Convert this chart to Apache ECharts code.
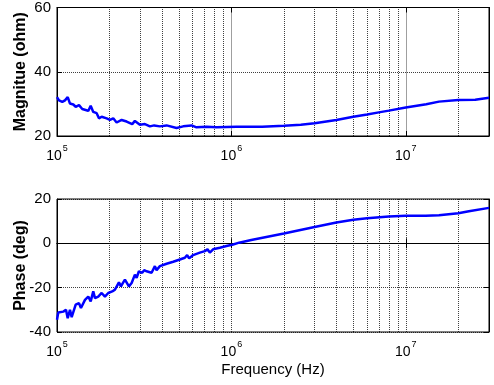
<!DOCTYPE html>
<html>
<head>
<meta charset="utf-8">
<script src="https://cdn.jsdelivr.net/npm/echarts@6/dist/echarts.min.js"></script>
<style>
html,body{margin:0;padding:0;background:#fff;}
#c{width:494px;height:385px;}
</style>
</head>
<body>
<div id="c"></div>
<script>
// Magnitude (ohm) vs frequency (Hz)
var magFreq = [1.00e5,1.027e5,1.072e5,1.111e5,1.152e5,1.187e5,1.240e5,1.280e5,1.337e5,1.396e5,1.460e5,1.511e5,1.560e5,1.614e5,1.688e5,1.740e5,1.803e5,1.926e5,2.012e5,2.101e5,2.197e5,2.348e5,2.507e5,2.700e5,2.797e5,2.988e5,3.192e5,3.410e5,3.609e5,3.890e5,4.250e5,4.848e5,5.290e5,5.908e5,6.311e5,7.201e5,8.216e5,9.374e5,1.070e6,1.5e6,2.0e6,2.5e6,3.0e6,4.0e6,5.0e6,6.0e6,7.0e6,8.0e6,1.0e7,1.31e7,1.55e7,2.0e7,2.5e7,3.0e7];
var magValues = [32.1,31.1,30.6,31.1,32.1,30.1,29.8,29.1,29.6,28.4,28.1,27.8,29.4,27.5,27.1,25.5,26.0,25.5,25.0,25.5,24.2,25.0,24.5,23.7,24.7,23.5,23.7,23.0,23.3,23.0,23.3,22.5,23.0,23.3,22.7,22.9,22.7,22.8,22.9,22.9,23.2,23.5,24.0,25.0,26.0,26.7,27.35,27.9,28.9,29.9,30.7,31.2,31.3,31.9];

// Phase (deg) vs frequency (Hz)
var phaseFreq = [1.00e5,1.017e5,1.087e5,1.126e5,1.152e5,1.187e5,1.214e5,1.280e5,1.337e5,1.372e5,1.447e5,1.511e5,1.560e5,1.614e5,1.651e5,1.724e5,1.803e5,1.883e5,1.967e5,2.074e5,2.149e5,2.197e5,2.265e5,2.326e5,2.398e5,2.452e5,2.585e5,2.679e5,2.797e5,2.861e5,2.949e5,3.080e5,3.162e5,3.264e5,3.486e5,3.642e5,3.724e5,3.890e5,4.250e5,4.636e5,5.064e5,5.409e5,5.576e5,5.724e5,6.035e5,6.592e5,7.042e5,7.297e5,7.521e5,7.855e5,8.582e5,9.374e5,1.023e6,1.107e6,1.3e6,2.0e6,3.0e6,4.0e6,5.0e6,6.0e6,8.0e6,1.0e7,1.3e7,1.55e7,2.0e7,2.3e7,3.0e7];
var phaseValues = [-34.5,-31.2,-30.8,-30.0,-33.8,-30.0,-33.3,-27.7,-27.0,-29.2,-25.5,-24.0,-26.2,-21.7,-24.7,-24.0,-22.4,-24.0,-22.4,-21.7,-20.9,-20.1,-17.6,-19.4,-17.6,-16.4,-19.4,-17.9,-14.1,-15.6,-12.6,-13.3,-12.1,-12.6,-13.3,-10.3,-12.1,-10.3,-9.2,-8.3,-7.3,-6.5,-5.3,-6.8,-5.3,-4.2,-3.5,-2.7,-4.2,-2.7,-2.0,-1.2,-0.5,0.3,1.5,4.4,7.4,9.4,10.6,11.3,12.1,12.4,12.4,12.7,13.6,14.5,16.0];

// Axis ranges and ticks
var freqMin = 1e5, freqMax = 3e7;
var magTicks = [20, 40, 60];
var phaseTicks = [-40, -20, 0, 20];
var minorGridFreqs = [2e5,3e5,4e5,5e5,6e5,7e5,8e5,9e5,2e6,3e6,4e6,5e6,6e6,7e6,8e6,9e6,2e7];

var FONT = '"Liberation Sans", Arial, Helvetica, sans-serif';
var GRIDLINE = { color: '#000', type: [1, 1], width: 1, opacity: 0.75 };

function pairs(xs, ys) { return xs.map(function (x, i) { return [x, ys[i]]; }); }

function xLabelFmt(v) {
  var e = Math.log10(v);
  if (Math.abs(e - Math.round(e)) < 1e-6) return '{b|10}{s|' + Math.round(e) + '}';
  return '';
}

function xAxisDef(gridIndex, withName) {
  return {
    type: 'log', logBase: 10, gridIndex: gridIndex,
    min: freqMin, max: freqMax, interval: 1,
    name: withName ? 'Frequency (Hz)' : '',
    nameLocation: 'middle', nameGap: 30, nameMoveOverlap: false,
    nameTextStyle: { fontFamily: FONT, fontSize: 15, color: '#000' },
    axisLine: { show: true, lineStyle: { color: '#000', width: 1 } },
    axisTick: { show: true, inside: true, length: 5, lineStyle: { color: '#000' } },
    axisLabel: {
      show: true, margin: 7, showMaxLabel: false, formatter: xLabelFmt,
      rich: {
        b: { fontFamily: FONT, fontSize: 14, color: '#000', padding: [6, 0, 0, 0] },
        s: { fontFamily: FONT, fontSize: 9, color: '#000', padding: [0, 0, 9, 1] }
      }
    },
    splitLine: { show: true, lineStyle: GRIDLINE }
  };
}
function xAxisTop(gridIndex) {
  return {
    type: 'log', logBase: 10, gridIndex: gridIndex, position: 'top',
    min: freqMin, max: freqMax, interval: 1,
    axisLine: { show: true, lineStyle: { color: '#000', width: 1 } },
    axisTick: { show: true, inside: true, length: 5, lineStyle: { color: '#000' } },
    axisLabel: { show: false }, splitLine: { show: false }
  };
}
function yAxisDef(gridIndex, ticks, name) {
  return {
    type: 'value', gridIndex: gridIndex,
    min: ticks[0], max: ticks[ticks.length - 1], interval: ticks[1] - ticks[0],
    name: name, nameLocation: 'middle', nameGap: 28, nameRotate: 90, nameMoveOverlap: false,
    nameTextStyle: { fontFamily: FONT, fontSize: 16, fontWeight: 'bold', color: '#000' },
    axisLine: { show: true, lineStyle: { color: '#000', width: 1 } },
    axisTick: { show: true, inside: true, length: 5, lineStyle: { color: '#000' } },
    axisLabel: { fontFamily: FONT, fontSize: 15, color: '#000', margin: 6 },
    splitLine: { show: true, lineStyle: GRIDLINE }
  };
}
function yAxisRight(gridIndex, ticks) {
  return {
    type: 'value', gridIndex: gridIndex, position: 'right',
    min: ticks[0], max: ticks[ticks.length - 1], interval: ticks[1] - ticks[0],
    axisLine: { show: true, lineStyle: { color: '#000', width: 1 } },
    axisTick: { show: true, inside: true, length: 5, lineStyle: { color: '#000' } },
    axisLabel: { show: false }, splitLine: { show: false }
  };
}
function gridLinesSeries(xi, yi) {
  return {
    type: 'line', xAxisIndex: xi, yAxisIndex: yi, data: [], z: 1, silent: true,
    markLine: {
      silent: true, symbol: ['none', 'none'], label: { show: false },
      lineStyle: GRIDLINE, emphasis: { disabled: true }, animation: false,
      data: minorGridFreqs.map(function (f) { return { xAxis: f }; })
    }
  };
}

var chart = echarts.init(document.getElementById('c'), null, { renderer: 'canvas' });
chart.setOption({
  animation: false,
  backgroundColor: '#fff',
  grid: [
    { left: 57, top: 5, width: 432, height: 131, show: true, borderColor: '#000', borderWidth: 1, backgroundColor: '#fff' },
    { left: 57, top: 199, width: 432, height: 133, show: true, borderColor: '#000', borderWidth: 1, backgroundColor: '#fff' }
  ],
  xAxis: [xAxisDef(0, false), xAxisDef(1, true), xAxisTop(0), xAxisTop(1)],
  yAxis: [yAxisDef(0, magTicks, 'Magnitue (ohm)'), yAxisDef(1, phaseTicks, 'Phase (deg)'), yAxisRight(0, magTicks), yAxisRight(1, phaseTicks)],
  series: [
    gridLinesSeries(0, 0),
    gridLinesSeries(1, 1),
    { type: 'line', xAxisIndex: 0, yAxisIndex: 0, z: 5, data: pairs(magFreq, magValues), showSymbol: false, symbol: 'none', lineStyle: { color: '#0000ff', width: 2.5 } },
    { type: 'line', xAxisIndex: 1, yAxisIndex: 1, z: 5, data: pairs(phaseFreq, phaseValues), showSymbol: false, symbol: 'none', lineStyle: { color: '#0000ff', width: 2.5 } }
  ]
});
</script>
</body>
</html>
